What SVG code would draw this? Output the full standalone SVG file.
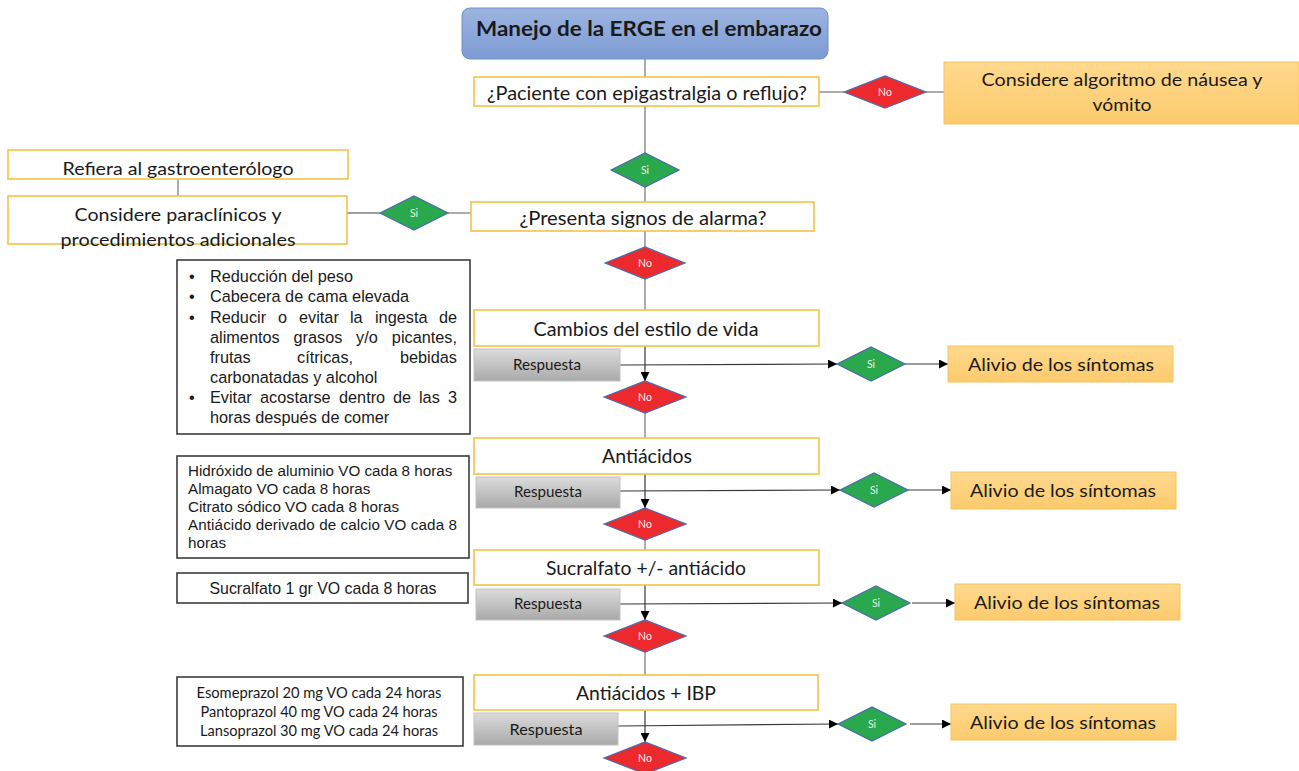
<svg xmlns="http://www.w3.org/2000/svg" width="1299" height="771" viewBox="0 0 1299 771">
<defs>
<style>
.ln{stroke:#7f7f7f;stroke-width:1.3;fill:none}
.ar{stroke:#3a3a3a;stroke-width:1.2;fill:none;marker-end:url(#ah)}
.yb{fill:#fff;stroke:#f6c445;stroke-width:1.6}
.ob{fill:url(#og);stroke:#f7c35c;stroke-width:1}
.gb{fill:url(#gg);stroke:#c2c2c2;stroke-width:1}
.bb{fill:#fff;stroke:#3c3c3c;stroke-width:1.6}
.dr{fill:#ec2a2e;stroke:#4a6aae;stroke-width:1.2}
.dg{fill:#29a84d;stroke:#4a6aae;stroke-width:1.2}
.c{font-family:Lato,"Open Sans",sans-serif;fill:#1a1a1a}
.a{font-family:"Liberation Sans",Arial,sans-serif;fill:#1a1a1a}
.dl{font-family:Lato,"Open Sans",sans-serif;font-size:10.5px;fill:#ffecec;text-anchor:middle}
.dls{font-family:Lato,"Open Sans",sans-serif;font-size:10.5px;fill:#e6f5e6;text-anchor:middle}
.m{text-anchor:middle}
.e{text-anchor:end}
</style>
<linearGradient id="tg" x1="0" y1="0" x2="0" y2="1"><stop offset="0" stop-color="#9cb4e0"/><stop offset="1" stop-color="#7d9bd3"/></linearGradient>
<linearGradient id="og" x1="0" y1="0" x2="0" y2="1"><stop offset="0" stop-color="#ffd98e"/><stop offset="1" stop-color="#fcca6c"/></linearGradient>
<linearGradient id="gg" x1="0" y1="0" x2="0" y2="1"><stop offset="0" stop-color="#dcdcdc"/><stop offset="1" stop-color="#a9a9a9"/></linearGradient>
<marker id="ah" viewBox="0 0 10 10" refX="10" refY="5" markerWidth="9" markerHeight="9" markerUnits="userSpaceOnUse" orient="auto"><path d="M0,0 L10,5 L0,10 z" fill="#000"/></marker>
</defs>
<rect width="1299" height="771" fill="#fff"/>

<g id="connectors">
<line class="ln" x1="645" y1="59" x2="645" y2="77"/>
<line class="ln" x1="819" y1="92" x2="844" y2="92"/>
<line class="ln" x1="926" y1="92" x2="944" y2="92"/>
<line class="ln" x1="645" y1="106" x2="645" y2="153"/>
<line class="ln" x1="645" y1="187" x2="645" y2="202"/>
<line class="ln" x1="471" y1="213" x2="448" y2="213"/>
<line class="ln" x1="380" y1="213" x2="347" y2="213"/>
<line class="ln" x1="178" y1="179" x2="178" y2="196"/>
<line class="ln" x1="645" y1="231" x2="645" y2="247"/>
<line class="ln" x1="645" y1="279" x2="645" y2="310"/>
<line class="ar" x1="645" y1="346" x2="645" y2="381"/>
<line class="ar" x1="620" y1="365" x2="837" y2="364"/>
<line class="ar" x1="905" y1="364" x2="948" y2="364"/>
<line class="ln" x1="645" y1="413" x2="645" y2="438"/>
<line class="ar" x1="645" y1="474" x2="645" y2="508"/>
<line class="ar" x1="620" y1="491" x2="840" y2="490"/>
<line class="ar" x1="908" y1="490" x2="951" y2="490"/>
<line class="ln" x1="645" y1="540" x2="645" y2="550"/>
<line class="ar" x1="645" y1="585" x2="645" y2="620"/>
<line class="ar" x1="620" y1="604" x2="842" y2="603"/>
<line class="ar" x1="912" y1="603" x2="955" y2="603"/>
<line class="ln" x1="645" y1="652" x2="645" y2="675"/>
<line class="ar" x1="645" y1="710" x2="645" y2="742"/>
<line class="ar" x1="618" y1="726" x2="838" y2="724"/>
<line class="ar" x1="910" y1="724" x2="951" y2="724"/>
</g>

<g id="title">
<rect x="462" y="8" width="366" height="51" rx="8" fill="url(#tg)" stroke="#7090c8" stroke-width="1"/>
<text class="c m" x="649" y="36" font-size="21" font-weight="bold" fill="#111" textLength="346" lengthAdjust="spacingAndGlyphs">Manejo de la ERGE en el embarazo</text>
</g>

<g id="q1">
<rect class="yb" x="474" y="77" width="345" height="29"/>
<text class="c m" x="647" y="100" font-size="19" textLength="320" lengthAdjust="spacingAndGlyphs">¿Paciente con epigastralgia o reflujo?</text>
</g>

<g id="no1"><polygon class="dr" points="844,92 885,76 926,92 885,108"/><text class="dl" x="885" y="96">No</text></g>

<g id="nausea">
<rect class="ob" x="944" y="62" width="355" height="62"/>
<text class="c m" x="1122" y="86" font-size="18" textLength="281" lengthAdjust="spacingAndGlyphs">Considere algoritmo de náusea y</text>
<text class="c m" x="1122" y="111" font-size="18" textLength="59" lengthAdjust="spacingAndGlyphs">vómito</text>
</g>

<g id="si1"><polygon class="dg" points="611,170 645,153 679,170 645,187"/><text class="dls" x="645" y="174">Si</text></g>

<g id="refiera">
<rect class="yb" x="8" y="150" width="340" height="29"/>
<text class="c m" x="178" y="175" font-size="18" textLength="231" lengthAdjust="spacingAndGlyphs">Refiera al gastroenterólogo</text>
</g>

<g id="paraclinicos">
<rect class="yb" x="8" y="196" width="339" height="48"/>
<text class="c m" x="178" y="221" font-size="18" textLength="207" lengthAdjust="spacingAndGlyphs">Considere paraclínicos y</text>
<text class="c m" x="178" y="246" font-size="18" textLength="235" lengthAdjust="spacingAndGlyphs">procedimientos adicionales</text>
</g>

<g id="si-left"><polygon class="dg" points="380,213 414,196 448,213 414,230"/><text class="dls" x="414" y="217">Si</text></g>

<g id="alarma">
<rect class="yb" x="471" y="202" width="343" height="29"/>
<text class="c m" x="643" y="225" font-size="19" textLength="247" lengthAdjust="spacingAndGlyphs">¿Presenta signos de alarma?</text>
</g>

<g id="no2"><polygon class="dr" points="605,263 645,247 685,263 645,279"/><text class="dl" x="645" y="267">No</text></g>

<g id="estilo-lista">
<rect class="bb" x="177" y="260" width="293" height="174"/>
<g class="a" font-size="16.3">
<text x="189" y="282">•</text><text x="210" y="282">Reducción del peso</text>
<text x="189" y="302">•</text><text x="210" y="302">Cabecera de cama elevada</text>
<text x="189" y="323">•</text>
<text y="323"><tspan x="210">Reducir</tspan><tspan x="278">o</tspan><tspan x="299">evitar</tspan><tspan x="350">la</tspan><tspan x="375">ingesta</tspan></text><text class="e" x="457" y="323">de</text>
<text y="343"><tspan x="210">alimentos</tspan><tspan x="293.5">grasos</tspan><tspan x="356">y/o</tspan></text><text class="e" x="457" y="343">picantes,</text>
<text y="363"><tspan x="210">frutas</tspan><tspan x="297">cítricas,</tspan></text><text class="e" x="457" y="363">bebidas</text>
<text x="210" y="383">carbonatadas y alcohol</text>
<text x="189" y="403">•</text>
<text y="403"><tspan x="210">Evitar</tspan><tspan x="260">acostarse</tspan><tspan x="339">dentro</tspan><tspan x="393">de</tspan><tspan x="419">las</tspan></text><text class="e" x="457" y="403">3</text>
<text x="210" y="423">horas después de comer</text>
</g>
</g>

<g id="cambios">
<rect class="yb" x="474" y="310" width="345" height="36"/>
<text class="c m" x="646" y="336" font-size="19" textLength="225" lengthAdjust="spacingAndGlyphs">Cambios del estilo de vida</text>
</g>
<g id="resp1"><rect class="gb" x="474" y="349" width="146" height="32"/><text class="c m" x="547" y="370" font-size="15" textLength="68" lengthAdjust="spacingAndGlyphs">Respuesta</text></g>
<g id="si-r1"><polygon class="dg" points="837,364 871,347 905,364 871,381"/><text class="dls" x="871" y="368">Si</text></g>
<g id="alivio1"><rect class="ob" x="948" y="346" width="225" height="36"/><text class="c m" x="1061" y="371" font-size="18" textLength="186" lengthAdjust="spacingAndGlyphs">Alivio de los síntomas</text></g>
<g id="no3"><polygon class="dr" points="604,397 645,381 686,397 645,413"/><text class="dl" x="645" y="401">No</text></g>

<g id="antiacidos-lista">
<rect class="bb" x="177" y="456" width="292" height="102"/>
<g class="a" font-size="15.2">
<text x="188" y="476">Hidróxido de aluminio VO cada 8 horas</text>
<text x="188" y="494">Almagato VO cada 8 horas</text>
<text x="188" y="512">Citrato sódico VO cada 8 horas</text>
<text x="188" y="530" textLength="269" lengthAdjust="spacing">Antiácido derivado de calcio VO cada 8</text>
<text x="188" y="548">horas</text>
</g>
</g>

<g id="antiacidos">
<rect class="yb" x="474" y="438" width="345" height="36"/>
<text class="c m" x="647" y="463" font-size="19" textLength="90" lengthAdjust="spacingAndGlyphs">Antiácidos</text>
</g>
<g id="resp2"><rect class="gb" x="476" y="477" width="144" height="31"/><text class="c m" x="548" y="497" font-size="15" textLength="68" lengthAdjust="spacingAndGlyphs">Respuesta</text></g>
<g id="si-r2"><polygon class="dg" points="840,490 874,473 908,490 874,507"/><text class="dls" x="874" y="494">Si</text></g>
<g id="alivio2"><rect class="ob" x="951" y="472" width="225" height="37"/><text class="c m" x="1063" y="497" font-size="18" textLength="186" lengthAdjust="spacingAndGlyphs">Alivio de los síntomas</text></g>
<g id="no4"><polygon class="dr" points="604,524 645,508 686,524 645,540"/><text class="dl" x="645" y="528">No</text></g>

<g id="sucralfato-dosis">
<rect class="bb" x="177" y="573" width="291" height="30"/>
<text class="a m" x="323" y="594" font-size="15.9">Sucralfato 1 gr VO cada 8 horas</text>
</g>

<g id="sucralfato">
<rect class="yb" x="474" y="550" width="345" height="35"/>
<text class="c m" x="646" y="575" font-size="19" textLength="200" lengthAdjust="spacingAndGlyphs">Sucralfato +/- antiácido</text>
</g>
<g id="resp3"><rect class="gb" x="476" y="589" width="144" height="31"/><text class="c m" x="548" y="609" font-size="15" textLength="68" lengthAdjust="spacingAndGlyphs">Respuesta</text></g>
<g id="si-r3"><polygon class="dg" points="842,603 876,586 910,603 876,620"/><text class="dls" x="876" y="607">Si</text></g>
<g id="alivio3"><rect class="ob" x="955" y="584" width="225" height="36"/><text class="c m" x="1067" y="609" font-size="18" textLength="186" lengthAdjust="spacingAndGlyphs">Alivio de los síntomas</text></g>
<g id="no5"><polygon class="dr" points="604,636 645,620 686,636 645,652"/><text class="dl" x="645" y="640">No</text></g>

<g id="ibp-dosis">
<rect class="bb" x="177" y="677" width="286" height="69"/>
<g class="c" font-size="14.5">
<text class="m" x="319" y="698" textLength="245" lengthAdjust="spacingAndGlyphs">Esomeprazol 20 mg VO cada 24 horas</text>
<text class="m" x="319" y="717" textLength="237" lengthAdjust="spacingAndGlyphs">Pantoprazol 40 mg VO cada 24 horas</text>
<text class="m" x="319" y="736" textLength="238" lengthAdjust="spacingAndGlyphs">Lansoprazol 30 mg VO cada 24 horas</text>
</g>
</g>

<g id="ibp">
<rect class="yb" x="474" y="675" width="344" height="35"/>
<text class="c m" x="646" y="700" font-size="19" textLength="140" lengthAdjust="spacingAndGlyphs">Antiácidos + IBP</text>
</g>
<g id="resp4"><rect class="gb" x="474" y="713" width="144" height="32"/><text class="c m" x="546" y="735" font-size="16" textLength="73" lengthAdjust="spacingAndGlyphs">Respuesta</text></g>
<g id="si-r4"><polygon class="dg" points="838,724 872,707 906,724 872,741"/><text class="dls" x="872" y="728">Si</text></g>
<g id="alivio4"><rect class="ob" x="951" y="704" width="225" height="36"/><text class="c m" x="1063" y="729" font-size="18" textLength="186" lengthAdjust="spacingAndGlyphs">Alivio de los síntomas</text></g>
<g id="no6"><polygon class="dr" points="604,758 645,742 686,758 645,774"/><text class="dl" x="645" y="762">No</text></g>
</svg>
